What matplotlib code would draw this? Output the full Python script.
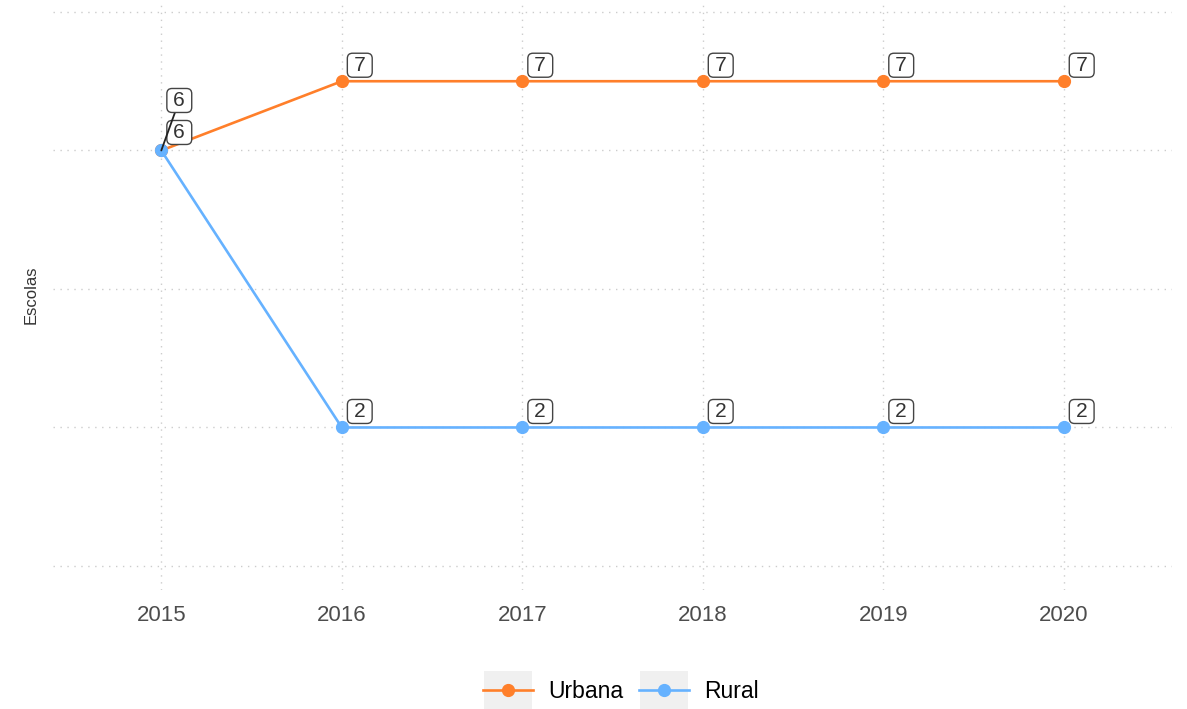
import matplotlib.pyplot as plt
from matplotlib.patches import Rectangle

plt.rcParams['font.family'] = ['Liberation Sans', 'DejaVu Sans']

anos = [2015, 2016, 2017, 2018, 2019, 2020]
urbana = [6, 7, 7, 7, 7, 7]
rural = [6, 2, 2, 2, 2, 2]

cor_urbana = '#FF7F2A'
cor_rural = '#66B2FF'

fig = plt.figure(figsize=(11.87, 7.09), dpi=100)
ax = fig.add_axes([53 / 1187, 1 - 590 / 709, (1172 - 53) / 1187, 590 / 709])

ax.plot(anos, urbana, color=cor_urbana, lw=1.9, marker='o', ms=8.5, label='Urbana', zorder=3)
ax.plot(anos, rural, color=cor_rural, lw=1.9, marker='o', ms=8.5, label='Rural', zorder=3)

box = dict(boxstyle='round,pad=0.12,rounding_size=0.25', fc='white', ec='#444444', lw=1)


def rotulos(xs, ys, primeiro_dy=16, conector=False):
    for i, (x, y) in enumerate(zip(xs, ys)):
        dy = primeiro_dy if i == 0 else 16
        props = None
        if i == 0 and conector:
            props = dict(arrowstyle='-', color='#222222', lw=1.3, shrinkA=0, shrinkB=0)
        ax.annotate(f'\u2009{y}\u2009', (x, y), xytext=(18, dy), textcoords='offset pixels',
                    ha='center', va='center', fontsize=15, color='#333333',
                    bbox=box, arrowprops=props, zorder=4)


rotulos(anos, urbana, primeiro_dy=18)
rotulos(anos, rural, primeiro_dy=50, conector=True)

ax.set_xlim(2014.4, 2020.6)
ax.set_ylim(-0.347, 8.173)
ax.set_xticks(anos)
ax.set_yticks([0, 2, 4, 6, 8])
ax.set_yticklabels([])
ax.tick_params(length=0, axis='x', labelsize=16, labelcolor='#4D4D4D', pad=11)
ax.tick_params(length=0, axis='y')
ax.grid(True, color='#CCCCCC', linestyle=(0, (1, 4)), lw=1)
ax.set_axisbelow(True)
for s in ax.spines.values():
    s.set_visible(False)
ax.set_ylabel('Escolas', fontsize=12, color='#333333', labelpad=7)

leg = fig.legend(loc='lower center', bbox_to_anchor=(0.523, -0.006), ncol=2, frameon=False,
                 fontsize=16.5, handlelength=2.2, handletextpad=0.65, columnspacing=0.7,
                 borderaxespad=0.05)

# fundo cinza atrás das chaves da legenda
fig.canvas.draw()
for h in leg.legend_handles:
    bb = h.get_window_extent(fig.canvas.get_renderer())
    cx = (bb.x0 + bb.x1) / 2
    cy = (bb.y0 + bb.y1) / 2
    fig.add_artist(Rectangle((cx - 24, cy - 19), 48, 38, transform=None,
                             fc='#F0F0F0', ec='none', zorder=0))

fig.savefig('out.png', dpi=100)
